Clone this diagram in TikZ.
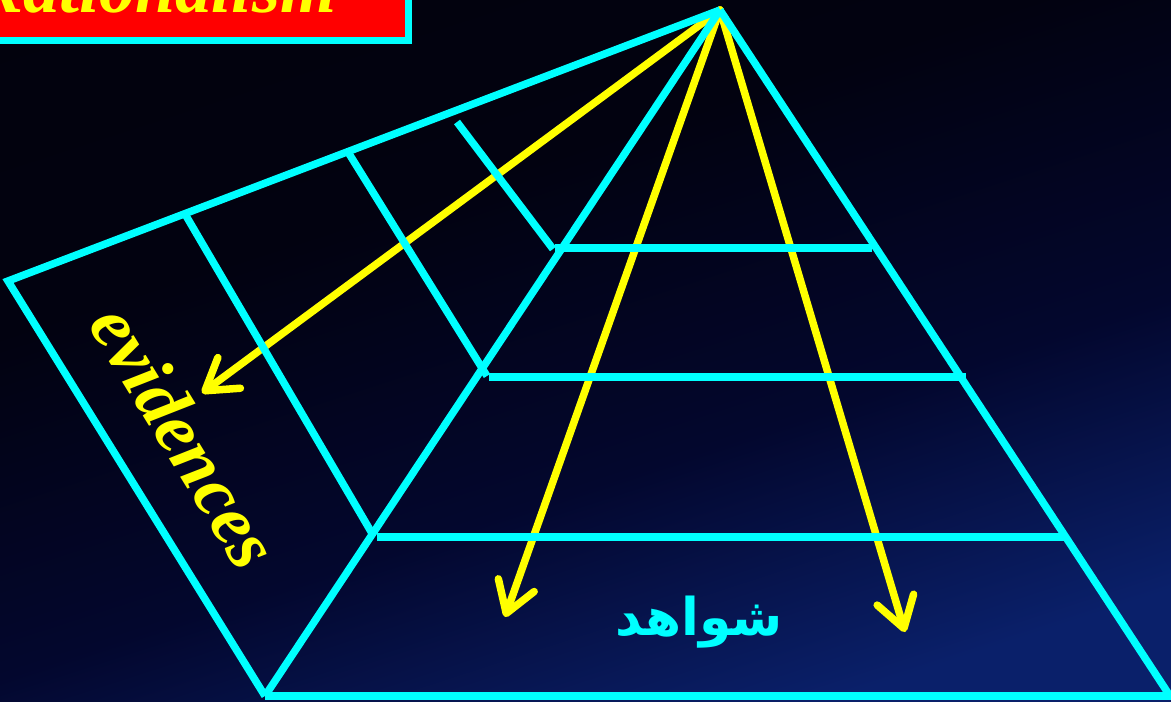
\documentclass[tikz,border=0pt]{standalone}
\usepackage{fontspec}
\setmainfont{Liberation Serif}
\newfontfamily\arabicfont[Script=Arabic]{DejaVu Sans}
\TeXXeTstate=1
\usetikzlibrary{arrows.meta}
\definecolor{cy}{RGB}{0,255,255}
\definecolor{yl}{RGB}{255,255,0}
\definecolor{rd}{RGB}{255,0,0}
\definecolor{bgtop}{RGB}{1,1,10}
\definecolor{bgup}{RGB}{2,2,16}
\definecolor{bgmid}{RGB}{3,7,46}
\definecolor{bgbot}{RGB}{10,32,106}
\pgfdeclareverticalshading{bgshade}{100bp}{color(0bp)=(bgbot); color(25bp)=(bgbot); color(42bp)=(bgmid); color(62bp)=(bgup); color(100bp)=(bgtop)}
\begin{document}
\begin{tikzpicture}[x=1pt,y=-1pt,
  edge/.style={cy, line width=7.5pt},
  ray/.style={yl, line width=7.5pt, line cap=round, -{Straight Barb[length=30pt,width=38pt,round]}},
  lbl/.style={inner sep=0pt, outer sep=0pt}]
\useasboundingbox (0,0) rectangle (1171,702);
\begin{scope}
\clip (0,0) rectangle (1171,702);
\shade[shading=bgshade, shading angle=18] (0,0) rectangle (1171,702);

% coordinates
\coordinate (apex) at (720,10);
\coordinate (A) at (8,281);
\coordinate (B) at (265,696);
\coordinate (C) at (1170,696);
\coordinate (Cr) at (1185,696);
\coordinate (d1a) at (185,214);
\coordinate (d1b) at (373,535);
\coordinate (d2a) at (348,152);
\coordinate (d2b) at (487,376);
\coordinate (d3a) at (457,122);
\coordinate (d3b) at (553,249);
\coordinate (h1a) at (555,248);
\coordinate (h1b) at (872,248);
\coordinate (h2a) at (489,377);
\coordinate (h2b) at (966,377);
\coordinate (h3a) at (377,537);
\coordinate (h3b) at (1065,537);
\coordinate (t1) at (202,393);
\coordinate (t2) at (505,617);
\coordinate (t3) at (905,632);

% title box
\draw[cy, line width=7.5pt, fill=rd] (-30,-120) rectangle (408.5,40.5);
\node[lbl, anchor=base east, text=yl] (title) at (336,12)
  {\fontsize{72}{72}\selectfont\bfseries\itshape Rationalism};

% yellow rays
\draw[ray] (apex) -- (t1);
\draw[ray] (apex) -- (t2);
\draw[ray] (apex) -- (t3);

% cyan pyramid
\draw[edge, line join=miter] (apex) -- (A) -- (B);
\draw[edge] (apex) -- (B);
\draw[edge] (apex) -- (C);
\draw[edge] (B) -- (Cr);
\draw[edge] (d1a) -- (d1b);
\draw[edge] (d2a) -- (d2b);
\draw[edge] (d3a) -- (d3b);
\draw[edge] (h1a) -- (h1b);
\draw[edge] (h2a) -- (h2b);
\draw[edge] (h3a) -- (h3b);

% labels
\node[lbl, text=yl, rotate=-58.5] (evid) at (185,436)
  {\fontsize{74}{74}\selectfont\bfseries\itshape evidences};
\node[lbl, text=cy] (shaw) at (699,622)
  {\fontsize{52}{52}\selectfont\arabicfont\bfseries\beginR شواهد\endR};
\end{scope}
\end{tikzpicture}
\end{document}
